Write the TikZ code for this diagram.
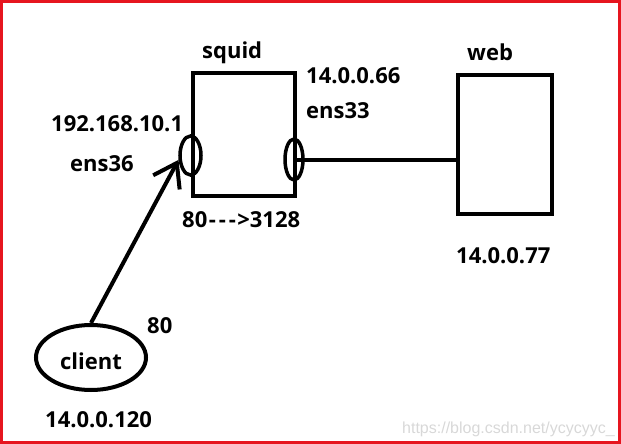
\documentclass[tikz,border=0pt]{standalone}
\usepackage{fontspec}
\setmainfont{Open Sans}
\newfontfamily\markfont{Liberation Sans}
\usetikzlibrary{positioning,arrows.meta,shapes.geometric}
\definecolor{framered}{HTML}{E6151F}
\definecolor{markgray}{HTML}{D8D8D8}
\newcommand{\wdash}{\makebox[10pt]{-}}

\begin{document}
\begin{tikzpicture}[x=1pt, y=-1pt,
  font=\fontsize{22}{26}\selectfont\bfseries,
  host/.style={draw, line width=4pt, inner sep=0pt},
  port/.style={draw, ellipse, line width=3.5pt, inner sep=0pt},
  lbl/.style={anchor=base west, inner sep=0pt},
  wire/.style={line width=4pt},
  arr/.style={-{Straight Barb[length=22pt, width=30pt]}, line width=4pt}]
  \useasboundingbox (0,0) rectangle (621,444);
  % machines
  \node[host, minimum width=102pt, minimum height=123pt] (squid) at (243.7,134.2) {};
  \node[host, minimum width=93.5pt, minimum height=138.7pt] (web) at (505,144.7) {};
  \node[host, ellipse, minimum width=110pt, minimum height=65pt, text height=25pt] (client) at (91,357.5) {client};
  % interfaces
  \node[port, minimum width=21pt, minimum height=39pt] (ens36if) at (190.5,155.5) {};
  \node[port, minimum width=18pt, minimum height=41pt] (ens33if) at (294,159.5) {};
  % labels
  \node[lbl] (squidlbl) at (202,59) {squid};
  \node[lbl] (weblbl) at (467,61) {web};
  \node[lbl] (ip66) at (306,83) {14.0.0.66};
  \node[lbl] (ens33) at (306,118) {ens33};
  \node[lbl] (ip101) at (51,131) {192.168.10.1};
  \node[lbl] (ens36) at (70,171) {ens36};
  \node[lbl] (redir) at (182,227) {80\wdash\wdash\wdash>3128};
  \node[lbl] (ip77) at (456,263) {14.0.0.77};
  \node[lbl] (port80) at (147,333) {80};
  \node[lbl] (ip120) at (45,427) {14.0.0.120};
  \node[lbl, font=\markfont\fontsize{16}{18}\selectfont, text=markgray] (mark) at (402,433) {https://blog.csdn.net/ycycyyc\_};
  % links
  \draw[wire] (ens33if.center) -- (ens33if.center -| web.west);
  \draw[arr] (client.north) -- (ens36if.200);
  % frame
  \draw[framered, line width=3pt] (1.5,1.5) rectangle (619.5,442.5);
\end{tikzpicture}
\end{document}
